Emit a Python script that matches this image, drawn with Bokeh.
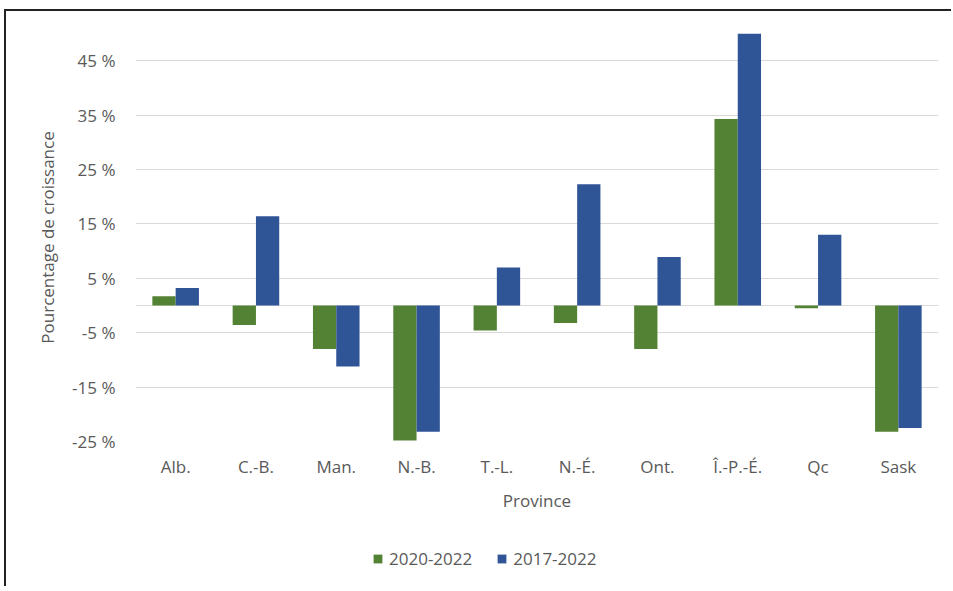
from bokeh.plotting import figure
from bokeh.layouts import column
from bokeh.models import FactorRange, Range1d, FixedTicker, Legend, LegendItem, Span, ColumnDataSource
from bokeh.transform import dodge
from bokeh.embed import file_html
from bokeh.resources import INLINE

provinces = ["Alb.", "C.-B.", "Man.", "N.-B.", "T.-L.", "N.-É.", "Ont.", "Î.-P.-É.", "Qc", "Sask"]
growth_2020_2022 = [1.7, -3.6, -8.0, -24.8, -4.6, -3.2, -8.0, 34.3, -0.5, -23.2]
growth_2017_2022 = [3.2, 16.4, -11.2, -23.2, 7.0, 22.3, 8.9, 50.0, 13.0, -22.5]
series_labels = ["2020-2022", "2017-2022"]
y_ticks = [-25, -15, -5, 5, 15, 25, 35, 45]

GREEN = "#548235"
BLUE = "#2F5597"
TEXT = "#595959"
FONT = "Open Sans"

src = ColumnDataSource(dict(prov=provinces, a=growth_2020_2022, b=growth_2017_2022))

p = figure(width=945, height=509, x_range=FactorRange(*provinces), y_range=Range1d(-25, 50),
           output_backend="svg", toolbar_location=None,
           min_border_left=129, min_border_right=13, min_border_top=22, min_border_bottom=79)
p.outline_line_color = None
p.background_fill_color = "white"
p.border_fill_color = "white"

r1 = p.vbar(x=dodge("prov", -0.145, range=p.x_range), top="a", bottom=0, width=0.29,
            source=src, fill_color=GREEN, line_color=None)
r2 = p.vbar(x=dodge("prov", 0.145, range=p.x_range), top="b", bottom=0, width=0.29,
            source=src, fill_color=BLUE, line_color=None)

p.yaxis.ticker = FixedTicker(ticks=y_ticks)
p.yaxis.major_label_overrides = {t: f"{t} %" for t in y_ticks}
p.ygrid.ticker = FixedTicker(ticks=y_ticks)
p.ygrid.grid_line_color = "#d9d9d9"
p.ygrid.level = "underlay"
p.xgrid.grid_line_color = None
p.add_layout(Span(location=0, dimension="width", line_color="#d9d9d9", line_width=1, level="underlay"))

for ax in (p.xaxis[0], p.yaxis[0]):
    ax.axis_line_color = None
    ax.major_tick_line_color = None
    ax.minor_tick_line_color = None
    ax.major_tick_out = 0
    ax.major_tick_in = 0
    ax.major_label_text_font = FONT
    ax.major_label_text_font_size = "17px"
    ax.major_label_text_color = TEXT
    ax.axis_label_text_font = FONT
    ax.axis_label_text_font_size = "17px"
    ax.axis_label_text_color = TEXT
    ax.axis_label_text_font_style = "normal"

p.yaxis.axis_label = "Pourcentage de croissance"
p.yaxis.major_label_standoff = 20
p.yaxis.axis_label_standoff = 10
p.xaxis.axis_label = "Province"
p.xaxis.major_label_standoff = 13
p.xaxis.axis_label_standoff = 8

# legend strip below the chart (same series, drawn outside its visible y range)
leg_fig = figure(width=945, height=66, x_range=FactorRange(*provinces), y_range=Range1d(100, 101),
                 output_backend="svg", toolbar_location=None, min_border=0)
leg_fig.axis.visible = False
leg_fig.grid.visible = False
leg_fig.outline_line_color = None
lr1 = leg_fig.vbar(x="prov", top="a", bottom=0, width=0.29, source=src, fill_color=GREEN, line_color=None)
lr2 = leg_fig.vbar(x="prov", top="b", bottom=0, width=0.29, source=src, fill_color=BLUE, line_color=None)
legend = Legend(items=[LegendItem(label=series_labels[0], renderers=[lr1]),
                       LegendItem(label=series_labels[1], renderers=[lr2])],
                location=(237, 16), orientation="horizontal",
                border_line_alpha=0, background_fill_alpha=0, padding=0, margin=0,
                spacing=24, label_standoff=6, glyph_width=11, glyph_height=11,
                label_text_font=FONT, label_text_font_size="17px", label_text_color=TEXT)
leg_fig.add_layout(legend)

layout = column(p, leg_fig, spacing=0,
                styles={"margin-left": "4px", "margin-top": "9px",
                        "border-left": "2px solid #222", "border-top": "2px solid #222"})

open("out.html", "w").write(file_html(layout, INLINE))
